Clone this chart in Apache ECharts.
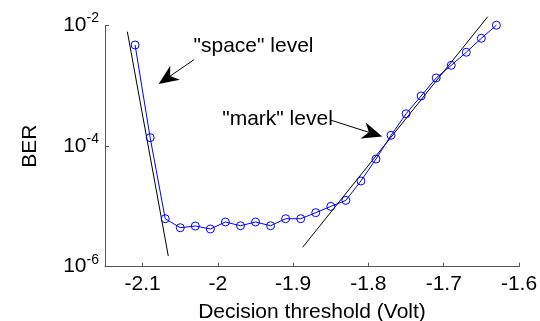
<!DOCTYPE html>
<html>
<head>
<meta charset="utf-8">
<script src="https://cdn.jsdelivr.net/npm/echarts@6/dist/echarts.min.js"></script>
<style>
html,body{margin:0;padding:0;background:#fff;}
#chart{width:540px;height:321px;}
</style>
</head>
<body>
<div id="chart"></div>
<script>
// Measured BER versus decision threshold
const thresholds = [-2.11,-2.09,-2.07,-2.05,-2.03,-2.01,-1.99,-1.97,-1.95,-1.93,-1.91,-1.89,-1.87,-1.85,-1.83,-1.81,-1.79,-1.77,-1.75,-1.73,-1.71,-1.69,-1.67,-1.65,-1.63];
const berValues = [4.75e-3,1.38e-4,6.25e-6,4.43e-6,4.73e-6,4.22e-6,5.51e-6,4.78e-6,5.51e-6,4.78e-6,6.25e-6,6.25e-6,7.87e-6,1.00e-5,1.26e-5,2.64e-5,6.1e-5,1.51e-4,3.44e-4,6.78e-4,1.35e-3,2.19e-3,3.60e-3,6.14e-3,1.01e-2];

// Asymptotic fit lines (endpoints)
const spaceFitX = [-2.1203, -2.0659];
const spaceFitY = [7.89e-3, 1.50e-6];
const markFitX = [-1.8874, -1.6415];
const markFitY = [2.10e-6, 1.40e-2];

// Annotations: text anchor and arrow start / tip
const annotTexts = ['"space" level', '"mark" level'];
const annotTextX = [-2.0324, -1.9943];
const annotTextY = [4.49e-3, 2.81e-4];
const arrowFromX = [-2.0320, -1.8507];
const arrowFromY = [2.70e-3, 2.71e-4];
const arrowToX = [-2.0788, -1.7817];
const arrowToY = [1.07e-3, 1.44e-4];

const xTickLabels = ['-2.1','-2','-1.9','-1.8','-1.7','-1.6'];
const xName = 'Decision threshold (Volt)';
const yName = 'BER';

const FONT = '"Liberation Sans", Arial, Helvetica, sans-serif';
const FS = 21;
const chart = echarts.init(document.getElementById('chart'), null, {renderer:'canvas'});

const mainData = thresholds.map((x,i)=>[x, berValues[i]]);
const spaceData = spaceFitX.map((x,i)=>[x, spaceFitY[i]]);
const markData = markFitX.map((x,i)=>[x, markFitY[i]]);
const arrowData = arrowFromX.map((x,i)=>[x, arrowFromY[i], arrowToX[i], arrowToY[i]]);
const markPoints = annotTexts.map((t,i)=>({
  coord:[annotTextX[i], annotTextY[i]],
  value:t
}));

function renderArrow(params, api){
  const p0 = api.coord([api.value(0), api.value(1)]);
  const p1 = api.coord([api.value(2), api.value(3)]);
  const dx = p1[0]-p0[0], dy = p1[1]-p0[1];
  const len = Math.sqrt(dx*dx+dy*dy);
  const ux = dx/len, uy = dy/len, nx = -uy, ny = ux;
  const L = 20, W = 8.5, N = 14;
  const bx = p1[0]-ux*L, by = p1[1]-uy*L;
  const c1 = [bx+nx*W, by+ny*W], c2 = [bx-nx*W, by-ny*W];
  const notch = [p1[0]-ux*N, p1[1]-uy*N];
  return {
    type:'group',
    children:[
      {type:'line', shape:{x1:p0[0], y1:p0[1], x2:notch[0], y2:notch[1]}, style:{stroke:'#000', lineWidth:1}},
      {type:'polygon', shape:{points:[p1, c1, notch, c2]}, style:{fill:'#000', stroke:null}}
    ]
  };
}

const option = {
  backgroundColor:'#fff',
  animation:false,
  grid:{left:105, right:21, top:25.5, bottom:54.3, containLabel:false, outerBoundsMode:'none'},
  xAxis:{
    type:'value', min:-2.15, max:-1.6, splitNumber:5,
    name:xName, nameLocation:'middle', nameGap:35,
    nameTextStyle:{fontFamily:FONT, fontSize:FS, color:'#000'},
    axisLine:{show:true, onZero:false, lineStyle:{color:'#555', width:1}},
    axisTick:{show:true, inside:true, length:4, lineStyle:{color:'#555'}},
    splitLine:{show:false},
    axisLabel:{
      showMinLabel:false, margin:7,
      fontFamily:FONT, fontSize:FS, color:'#000',
      formatter:function(v){
        const s = (Math.round(v*10)/10).toString();
        return xTickLabels.indexOf(s) >= 0 ? s : '';
      }
    }
  },
  yAxis:{
    type:'log', logBase:100, min:1e-6, max:1e-2,
    name:yName, nameLocation:'middle', nameGap:64,
    nameTextStyle:{fontFamily:FONT, fontSize:FS, color:'#000'},
    axisLine:{show:true, onZero:false, lineStyle:{color:'#555', width:1}},
    axisTick:{show:true, inside:true, length:4, lineStyle:{color:'#555'}},
    splitLine:{show:false},
    minorTick:{show:false},
    axisLabel:{
      margin:6, fontFamily:FONT, color:'#000',
      formatter:function(v){
        const e = Math.round(Math.log10(v));
        return '{b|10}{s|' + e + '}';
      },
      rich:{
        b:{fontFamily:FONT, fontSize:FS, color:'#000', lineHeight:22},
        s:{fontFamily:FONT, fontSize:14, color:'#000', lineHeight:22, padding:[0,0,14,0]}
      }
    }
  },
  series:[
    {
      type:'line', data:spaceData, clip:false, showSymbol:false, symbol:'none',
      lineStyle:{color:'#000', width:1}, z:1, silent:true
    },
    {
      type:'line', data:markData, clip:false, showSymbol:false, symbol:'none',
      lineStyle:{color:'#000', width:1}, z:1, silent:true
    },
    {
      type:'line', data:mainData, clip:false,
      symbol:'circle', symbolSize:8,
      itemStyle:{color:'rgba(0,0,0,0)', borderColor:'#0000ff', borderWidth:1},
      lineStyle:{color:'#0000ff', width:1},
      z:2,
      markPoint:{
        silent:true,
        symbol:'circle', symbolSize:0,
        label:{
          show:true, position:'right', distance:0,
          fontFamily:FONT, fontSize:FS, color:'#000',
          formatter:function(p){return p.value;}
        },
        data:markPoints
      }
    },
    {
      type:'custom', data:arrowData, clip:false, silent:true, z:3,
      encode:{x:[0,2], y:[1,3]},
      renderItem:renderArrow
    }
  ]
};
chart.setOption(option);
</script>
</body>
</html>
